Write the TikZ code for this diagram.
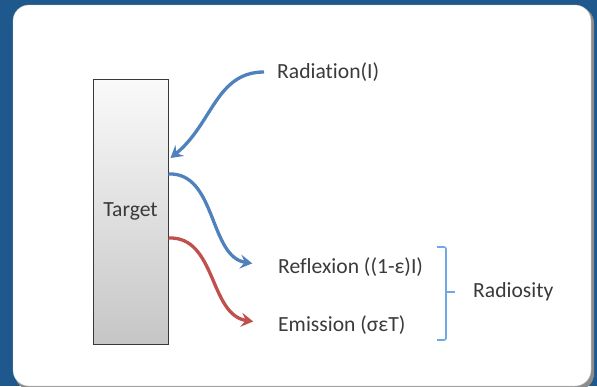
\documentclass[tikz,border=0pt]{standalone}
\usepackage{fontspec}
\setmainfont{Carlito}[Ligatures=NoCommon]
\usepackage{xcolor}
\usetikzlibrary{positioning,arrows.meta,calc}
\definecolor{bgblue}{RGB}{30,88,140}
\definecolor{radblue}{RGB}{79,129,189}
\definecolor{emired}{RGB}{192,80,77}
\definecolor{brablue}{RGB}{111,168,232}
\definecolor{txtgray}{RGB}{58,58,58}

\begin{document}
\begin{tikzpicture}[
  x=1pt, y=-1pt,
  every node/.style={font=\fontsize{21.6}{25}\selectfont, text=txtgray},
  target/.style={draw=gray!45!black, line width=1pt, minimum width=75pt, minimum height=265pt,
    top color=gray!4, bottom color=gray!45, inner sep=0pt},
  lbl/.style={anchor=west, inner sep=1pt},
  flow/.style={-{Stealth[length=12pt, width=14pt, inset=4.5pt]}, line width=3.3pt},
  brace/.style={draw=brablue, line width=1.6pt, rounded corners=2pt}
]
  \useasboundingbox (0,0) rectangle (597,386);
  \fill[bgblue] (0,0) rectangle (597,386);
  \fill[black!45, rounded corners=16pt] (15,7) rectangle (594,390);
  \fill[white, draw=gray!40, rounded corners=16pt] (13,5) rectangle (591,386);

  \node[target] (target) at (130.5,211.5) {Target};
  \node[lbl] (rad) at (276,72) {Radiation(I)};
  \node[lbl] (refl) at (277,267) {Reflexion ((1-ε)I)};
  \node[lbl] (emi) at (277,325) {Emission (σεT)};
  \node[lbl] (rds) at (472,292) {Radiosity};

  \coordinate (hit) at ($(target.east)+(2,-53.5)$);
  \coordinate (refout) at ($(target.east)+(0,-37.5)$);
  \coordinate (emiout) at ($(target.east)+(0,26.5)$);

  \draw[flow, radblue, shorten <=12pt] (rad.west) .. controls +(-60,0) and +(42,-34) .. (hit);
  \draw[flow, radblue, shorten >=25pt] (refout) .. controls +(48,-2) and +(-68,-10) .. (refl.west);
  \draw[flow, emired, shorten >=24pt] (emiout) .. controls +(48,-2) and +(-68,-10) .. (emi.west);

  \draw[brace] (437,247) -- (446,247) -- (446,340) -- (437,340);
  \draw[brace] (446,292) -- (455,292);
\end{tikzpicture}
\end{document}
